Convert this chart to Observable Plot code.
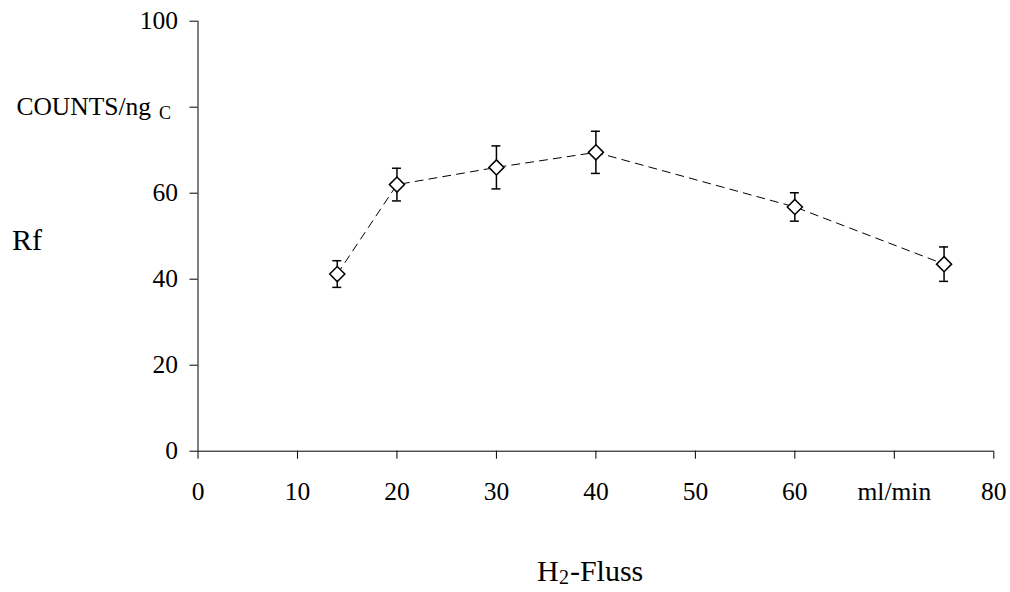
<!DOCTYPE html>
<html>
<head>
<meta charset="utf-8">
<script src="https://cdn.jsdelivr.net/npm/d3@7"></script>
<script src="https://cdn.jsdelivr.net/npm/@observablehq/plot@0.6"></script>
<style>
  html, body { margin: 0; padding: 0; background: #fff; }
</style>
</head>
<body>
<div id="chart"></div>
<script>
// Data
const flow = [14, 20, 30, 40, 60, 75];          // H2 flow, ml/min
const rf = [41.2, 62.0, 66.0, 69.5, 56.8, 43.5]; // Rf, COUNTS/ng C
const err = [3.1, 3.8, 5.0, 4.9, 3.3, 4.0];      // error bar half-length
const xTicks = [0, 10, 20, 30, 40, 50, 60, 70, 80];
const xTickLabels = ["0", "10", "20", "30", "40", "50", "60", "ml/min", "80"];
const yTicks = [0, 20, 40, 60, 80, 100];
const yTickLabels = ["0", "20", "40", "60", "", "100"];

const data = flow.map((x, i) => ({x, y: rf[i], lo: rf[i] - err[i], hi: rf[i] + err[i]}));

const serif = "'Liberation Serif', 'Times New Roman', serif";

const chart = Plot.plot({
  width: 1010,
  height: 592,
  marginLeft: 197.5,
  marginRight: 16.7,
  marginTop: 20.7,
  marginBottom: 141.3,
  style: {fontFamily: serif, fontSize: "25.5px", color: "black", background: "white"},
  x: {domain: [0, 80]},
  y: {domain: [0, 100]},
  marks: [
    Plot.ruleX([0], {stroke: "black", strokeWidth: 1}),
    Plot.ruleY([0], {stroke: "black", strokeWidth: 1}),
    Plot.axisX({
      ticks: xTicks, tickSize: 8, tickPadding: 23,
      tickFormat: d => xTickLabels[xTicks.indexOf(d)],
      label: null, fontSize: 25.5, stroke: "black"
    }),
    Plot.axisY({
      ticks: yTicks, tickSize: 8, tickPadding: 12,
      tickFormat: d => yTickLabels[yTicks.indexOf(d)],
      label: null, fontSize: 25.5, stroke: "black"
    }),
    // y-axis unit label in place of the 80 tick label
    Plot.text([{x: 0, y: 80}], {x: "x", y: "y", text: () => "COUNTS/ng", textAnchor: "end", dx: -47, fontSize: 25.5, fill: "black"}),
    Plot.text([{x: 0, y: 80}], {x: "x", y: "y", text: () => "C", textAnchor: "start", dx: -39, dy: 6, fontSize: 18, fill: "black"}),
    // Rf axis title
    Plot.text([{x: 0, y: 49}], {x: "x", y: "y", text: () => "Rf", textAnchor: "start", dx: -186, fontSize: 30, fill: "black"}),
    // x axis title H2-Fluss
    Plot.text([{x: 40, y: -28}], {x: "x", y: "y", text: () => "H", textAnchor: "start", dx: -59, fontSize: 30, fill: "black"}),
    Plot.text([{x: 40, y: -28}], {x: "x", y: "y", text: () => "2", textAnchor: "start", dx: -37, dy: 6, fontSize: 20, fill: "black"}),
    Plot.text([{x: 40, y: -28}], {x: "x", y: "y", text: () => "-Fluss", textAnchor: "start", dx: -26, fontSize: 30, fill: "black"}),
    // dashed connecting line
    Plot.line(data, {x: "x", y: "y", stroke: "black", strokeWidth: 1, strokeDasharray: "8,6"}),
    // error bars
    Plot.ruleX(data, {x: "x", y1: "lo", y2: "hi", stroke: "black", strokeWidth: 1.5}),
    Plot.ruleY(data, {y: "lo", x1: "x", x2: "x", insetLeft: -4.5, insetRight: -4.5, stroke: "black", strokeWidth: 1.5}),
    Plot.ruleY(data, {y: "hi", x1: "x", x2: "x", insetLeft: -4.5, insetRight: -4.5, stroke: "black", strokeWidth: 1.5}),
    // diamond markers
    Plot.dot(data, {x: "x", y: "y", symbol: "diamond2", r: 6.8, fill: "white", stroke: "black", strokeWidth: 1.5})
  ]
});
document.getElementById("chart").appendChild(chart);
</script>
</body>
</html>
